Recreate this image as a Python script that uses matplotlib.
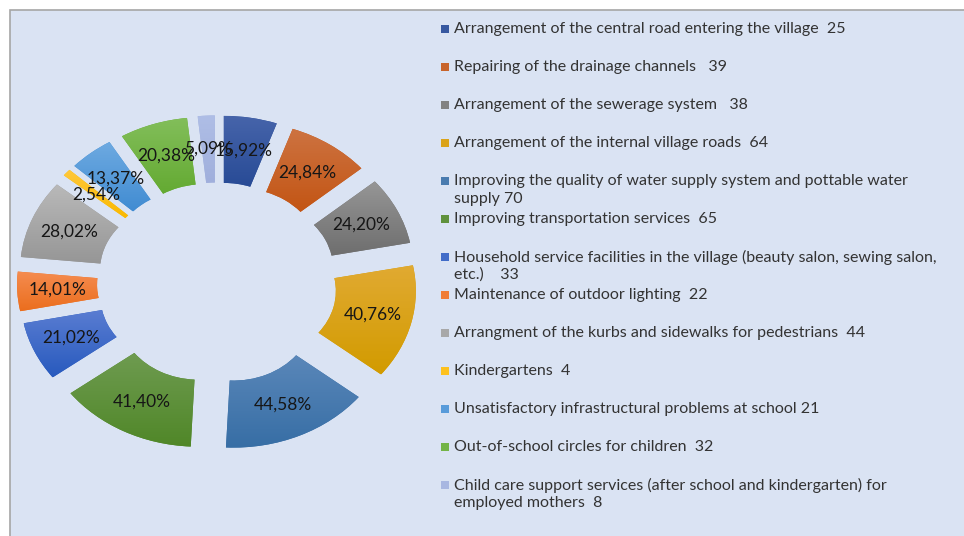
import numpy as np
import matplotlib.pyplot as plt
from matplotlib.patches import Rectangle
from matplotlib.colors import to_rgb

plt.rcParams['font.family'] = ['Lato', 'DejaVu Sans']

names = [
    "Arrangement of the central road entering the village",
    "Repairing of the drainage channels ",
    "Arrangement of the sewerage system ",
    "Arrangement of the internal village roads",
    "Improving the quality of water supply system and pottable water\nsupply",
    "Improving transportation services",
    "Household service facilities in the village (beauty salon, sewing salon,\netc.)  ",
    "Maintenance of outdoor lighting",
    "Arrangment of the kurbs and sidewalks for pedestrians",
    "Kindergartens",
    "Unsatisfactory infrastructural problems at school",
    "Out-of-school circles for children",
    "Child care support services (after school and kindergarten) for\nemployed mothers",
]
counts = [25, 39, 38, 64, 70, 65, 33, 22, 44, 4, 21, 32, 8]
# share of respondents naming each problem
percent = [15.92, 24.84, 24.20, 40.76, 44.58, 41.40, 21.02, 14.01, 28.02, 2.54, 13.37, 20.38, 5.09]
seps = ["  ", "  ", "  ", "  ", " ", "  ", "  ", "  ", "  ", "  ", " ", "  ", "  "]

# gradient colours (top, bottom) for every slice
tops = ['#4664aa', '#cd7341', '#969696', '#e1aa32', '#5a87b9', '#6e9b50',
        '#5a7dd2', '#f58c50', '#b9b9b9', '#ffc83c', '#6eaae1', '#82be5a', '#afbee6']
bottoms = ['#284b96', '#c35514', '#6e6e6e', '#d29b00', '#376ea5', '#508728',
           '#285abe', '#eb6e1e', '#969696', '#fab900', '#418cd2', '#64aa32', '#a0afdc']

W, H = 964, 536
fig = plt.figure(figsize=(W / 100, H / 100), dpi=100)
fig.patch.set_facecolor('white')
fig.add_artist(Rectangle((9.5 / W, -0.05), 1.0, (H - 9.5) / H + 0.05,
                         transform=fig.transFigure, facecolor='#dae3f3',
                         edgecolor='#a6a6a6', linewidth=1.2, zorder=0))

ax = fig.add_axes([1 / W, 72 / H, 432 / W, 362 / H])
ax.patch.set_alpha(0)

labels = [f"{p:.2f}%".replace('.', ',') for p in percent]
wedges, texts = ax.pie(counts, startangle=90, counterclock=False,
                       explode=[0.25] * len(counts), radius=1.0,
                       labels=labels, labeldistance=0.75,
                       wedgeprops=dict(width=0.5, linewidth=0),
                       textprops=dict(fontsize=12.5, color='#161616'))

for w, c_top, c_bot in zip(wedges, tops, bottoms):
    w.set_facecolor(c_bot)
    bb = w.get_path().get_extents()
    t = np.linspace(0, 1, 64)[:, None, None]
    grad = (1 - t) * np.array(to_rgb(c_top)) + t * np.array(to_rgb(c_bot))
    im = ax.imshow(grad, extent=[bb.x0, bb.x1, bb.y0, bb.y1], origin='upper',
                   aspect='auto', interpolation='bilinear', zorder=2)
    im.set_clip_path(w)

for t in texts:
    t.set_ha('center')
    t.set_va('center')
    t.set_zorder(5)

ax.set_aspect('auto')
ax.set_xlim(-1.35, 1.35)
ax.set_ylim(-1.35, 1.35)
ax.axis('off')

# legend: fixed slots, square marker beside first line
for i, (name, n, c_top, c_bot) in enumerate(zip(names, counts, tops, bottoms)):
    yc = 29 + 38 * i
    mid = (np.array(to_rgb(c_top)) + np.array(to_rgb(c_bot))) / 2
    fig.add_artist(Rectangle((441 / W, 1 - (yc + 4) / H), 8 / W, 8 / H,
                             transform=fig.transFigure, facecolor=mid,
                             edgecolor='none'))
    lines = (name + seps[i] + str(n)).split('\n')
    for j, line in enumerate(lines):
        fig.text(454 / W, 1 - (yc + 18 * j) / H, line, fontsize=11.5,
                 color='#333333', ha='left', va='center')

fig.savefig('out.png', dpi=100, facecolor='white')
